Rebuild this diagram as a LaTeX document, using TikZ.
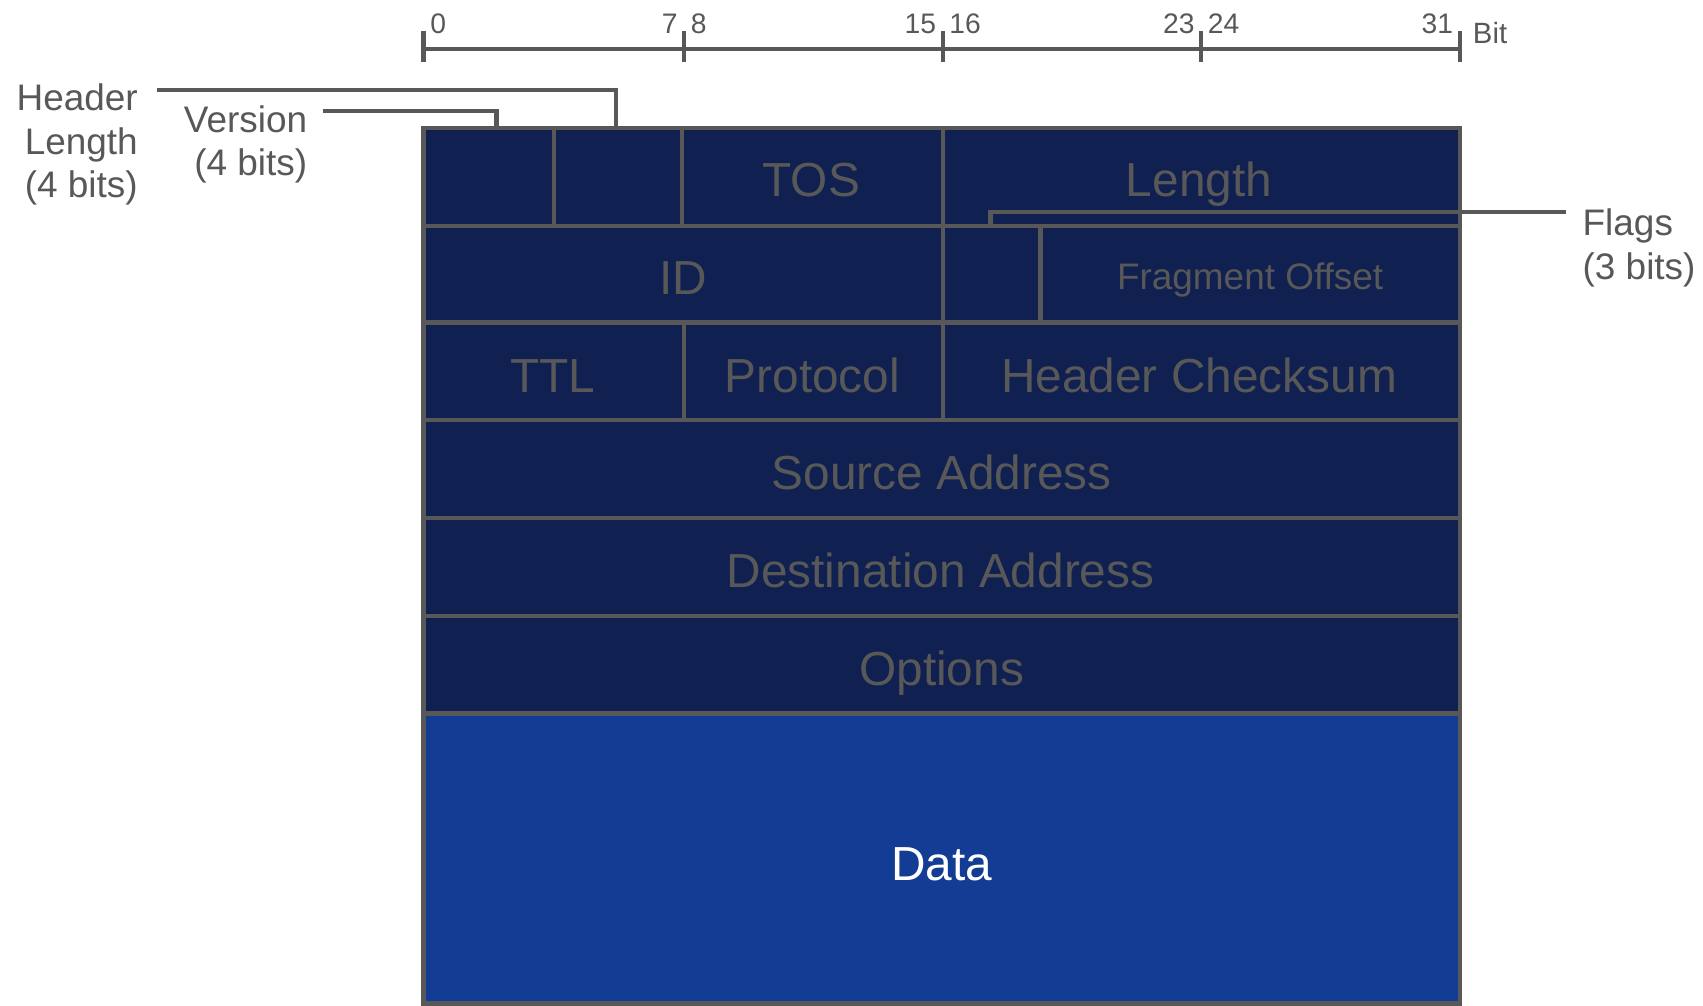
\documentclass[tikz,border=0pt]{standalone}
\usepackage{fontspec}
\setmainfont{Liberation Sans}
\definecolor{navy}{RGB}{16,32,80}
\definecolor{datablue}{RGB}{19,60,148}
\definecolor{rulegray}{RGB}{88,88,88}

\begin{document}
\begin{tikzpicture}[x=1pt,y=-1pt,
  cell/.style={text=rulegray,font=\fontsize{44}{48}\selectfont,anchor=base,inner sep=0pt},
  smallcell/.style={text=rulegray,font=\fontsize{34}{40}\selectfont,anchor=base,inner sep=0pt},
  note/.style={text=rulegray,font=\fontsize{34}{40}\selectfont,inner sep=0pt},
  num/.style={text=rulegray,font=\fontsize{26}{30}\selectfont,inner sep=0pt},
  gridline/.style={draw=rulegray,line width=4pt},
  leader/.style={draw=rulegray,line width=4pt,line join=miter},
  ]
\useasboundingbox (0,0) rectangle (1568,926);

% ---- bit ruler ----
\coordinate (r0) at (390,45);
\coordinate (r8) at (630,45);
\coordinate (r16) at (868,45);
\coordinate (r24) at (1106,45);
\coordinate (r31) at (1344,45);
\draw[gridline] (r0) -- (r31);
\foreach \t in {r0,r8,r16,r24,r31}
  \draw[gridline] ([yshift=-12pt]\t) -- ([yshift=16pt]\t);
\node[num,anchor=base west] (n0) at (396,31) {0};
\node[num,anchor=base east] (n7) at (624,31) {7};
\node[num,anchor=base west] (n8) at (636,31) {8};
\node[num,anchor=base east] (n15) at (862,31) {15};
\node[num,anchor=base west] (n16) at (874,31) {16};
\node[num,anchor=base east] (n23) at (1100,31) {23};
\node[num,anchor=base west] (n24) at (1112,31) {24};
\node[num,anchor=base east] (n31) at (1338,31) {31};
\node[num,anchor=base west,font=\fontsize{27}{30}\selectfont] (bit) at (1356,40) {Bit};

% ---- header rows and data area ----
\fill[navy] (390,118) rectangle (1344,657);
\fill[datablue] (390,657) rectangle (1344,924);

% row separators
\foreach \y in {208,297,387,477,567,657}
  \draw[gridline] (390,\y) -- (1344,\y);
% field separators
\draw[gridline] (510,118) -- (510,208);
\draw[gridline] (628,118) -- (628,208);
\draw[gridline] (868,118) -- (868,387);
\draw[gridline] (958,208) -- (958,297);
\draw[gridline] (630,297) -- (630,387);
% outer frame
\draw[gridline] (390,118) rectangle (1344,924);

% ---- field names ----
\node[cell] (tos) at (747,181) {TOS};
\node[cell] (len) at (1104,181) {Length};
\node[cell] (id) at (629,271) {ID};
\node[smallcell] (frag) at (1151,267) {Fragment Offset};
\node[cell] (ttl) at (509,361) {TTL};
\node[cell] (proto) at (748,361) {Protocol};
\node[cell] (chk) at (1104,361) {Header Checksum};
\node[cell] (src) at (867,451) {Source Address};
\node[cell] (dst) at (866,541) {Destination Address};
\node[cell] (opt) at (867,631) {Options};
\node[cell,text=white] (data) at (867,811) {Data};

% ---- side labels ----
\node[note,anchor=base east] (hdrA) at (127,102) {Header};
\node[note,anchor=base east] (hdrB) at (127,142) {Length};
\node[note,anchor=base east] (hdrC) at (127,182) {(4 bits)};
\node[note,anchor=base east] (verA) at (283,122) {Version};
\node[note,anchor=base east] (verB) at (283,162) {(4 bits)};
\node[note,anchor=base west] (flgA) at (1457,217) {Flags};
\node[note,anchor=base west] (flgB) at (1457,257) {(3 bits)};

% ---- leader lines ----
\coordinate (hdrStart) at (145,83);
\coordinate (hdrEnd) at (567,118);
\coordinate (verStart) at (297,102);
\coordinate (verEnd) at (457,118);
\coordinate (flgStart) at (1442,195);
\coordinate (flgEnd) at (912,208);
\draw[leader] (hdrStart) -| (hdrEnd);
\draw[leader] (verStart) -| (verEnd);
\draw[leader] (flgStart) -| (flgEnd);
\end{tikzpicture}
\end{document}
